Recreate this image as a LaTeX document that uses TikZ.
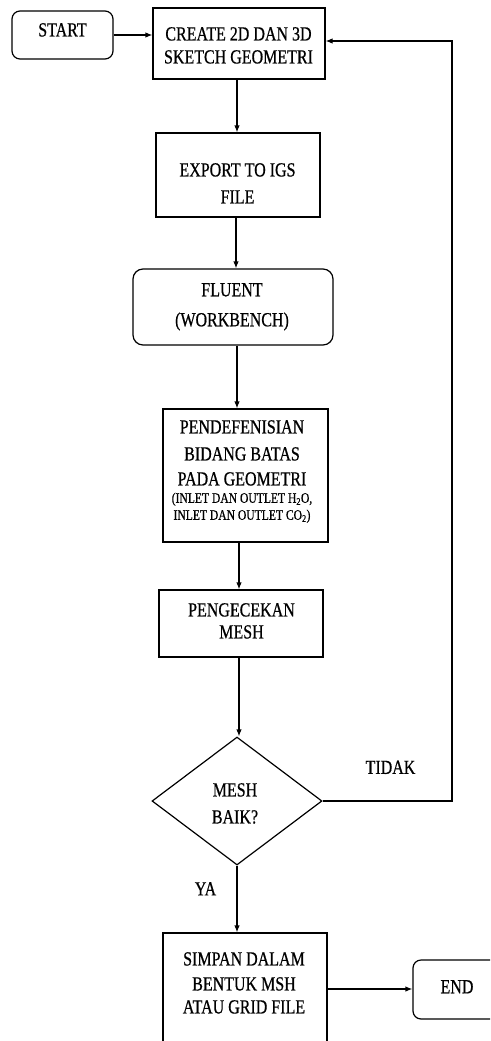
\documentclass[tikz,border=0pt]{standalone}
\usepackage{fontspec}
\setmainfont{Liberation Serif}[FakeStretch=0.8,FakeBold=0.6]
\usetikzlibrary{arrows.meta,shapes.geometric}
\begin{document}
\begin{tikzpicture}[x=1pt,y=-1pt,
  box/.style={draw, line width=1.2pt, inner sep=0pt},
  rbox/.style={box, rounded corners=8pt},
  txt/.style={anchor=north, inner sep=0pt, align=center, font=\fontsize{20}{22}\selectfont},
  small/.style={anchor=north, inner sep=0pt, align=center, font=\fontsize{14.5}{17}\selectfont},
  arr/.style={draw, line width=1.2pt, -{Latex[length=7pt,width=5.5pt]}}]
\clip (0,0) rectangle (490,1041);
\fill[white] (0,0) rectangle (490,1041);
% boxes
\node[rbox, minimum width=101pt, minimum height=48pt] (start) at (62.5,35) {};
\node[box, minimum width=172pt, minimum height=71pt] (create) at (239,43.5) {};
\node[box, minimum width=164pt, minimum height=84pt] (export) at (238,175) {};
\node[rbox, rounded corners=10pt, minimum width=200pt, minimum height=76pt] (fluent) at (233,307) {};
\node[box, minimum width=165pt, minimum height=133pt] (pendef) at (245.5,475.5) {};
\node[box, minimum width=164pt, minimum height=67pt] (cek) at (241,623.5) {};
\node[draw, diamond, line width=1.2pt, inner sep=0pt, minimum width=170pt, minimum height=128pt] (dia) at (237,801) {};
\node[box, minimum width=164pt, minimum height=112pt] (simpan) at (245,989) {};
\node[rbox, minimum width=100pt, minimum height=59pt] (end) at (463,989.5) {};
% texts
\node[txt] (tstart) at (62.5,23) {START};
\node[txt] (tcreate) at (238.5,27) {CREATE 2D DAN 3D\\[1pt]SKETCH GEOMETRI};
\node[txt] (texport) at (237.5,163) {EXPORT TO IGS\\[5pt]FILE};
\node[txt] (tfluent) at (232,283) {FLUENT\\[8pt](WORKBENCH)};
\node[txt] (tpendef) at (242,420) {PENDEFENISIAN\\[5pt]BIDANG BATAS\\[3pt]PADA GEOMETRI};
\node[small] (tpsmall) at (242,492.5) {(INLET DAN OUTLET H\textsubscript{2}O,\\INLET DAN OUTLET CO\textsubscript{2})};
\node[txt] (tcek) at (241.5,603) {PENGECEKAN\\MESH};
\node[txt] (tdia) at (235,783) {MESH\\[5pt]BAIK?};
\node[txt] (tsimpan) at (244,952) {SIMPAN DALAM\\[3pt]BENTUK MSH\\[1pt]ATAU GRID FILE};
\node[txt] (tend) at (457,980) {END};
\node[txt] (ttidak) at (390.5,760.5) {TIDAK};
\node[txt] (tya) at (205.5,882) {YA};
% connectors
\draw[arr] (start.east) -- (start.east -| create.west);
\draw[arr] ([xshift=-2pt]create.south) -- ([xshift=-2pt]create.south |- export.north);
\draw[arr] ([xshift=-2pt]export.south) -- ([xshift=-2pt]export.south |- fluent.north);
\draw[arr] ([xshift=4pt]fluent.south) -- ([xshift=4pt]fluent.south |- pendef.north);
\draw[arr] ([xshift=-6.5pt]pendef.south) -- ([xshift=-6.5pt]pendef.south |- cek.north);
\draw[arr] ([xshift=-2pt]cek.south) -- ([xshift=-2pt]cek.south |- dia.north);
\draw[arr] (dia.south) -- (dia.south |- simpan.north);
\draw[arr] (simpan.east) -- (simpan.east -| end.west);
\coordinate (r1) at (452,801);
\draw[arr] (dia.east) -- (r1) |- ([yshift=2.5pt]create.east);
\end{tikzpicture}
\end{document}
